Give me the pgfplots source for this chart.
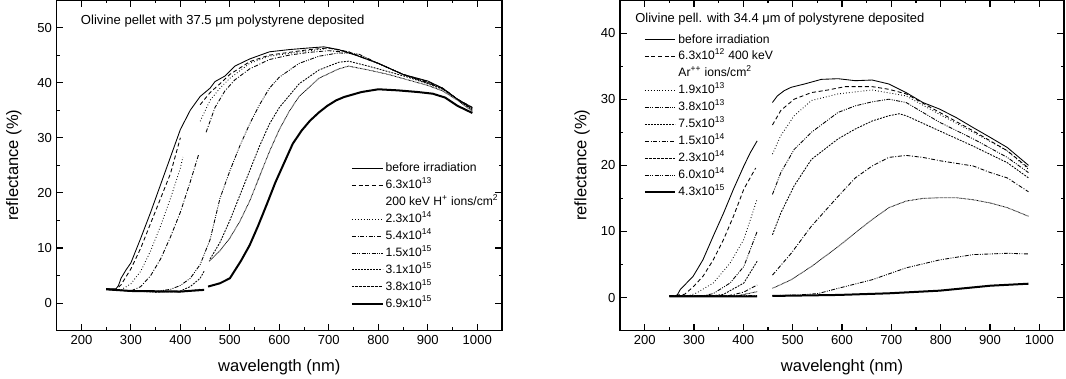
\documentclass[border=0pt]{standalone}
\usepackage{fontspec}
\setmainfont{Liberation Sans}
\usepackage{pgfplots}
\pgfplotsset{compat=1.18}

\pgfplotsset{
  panel/.style={
    scale only axis, height=248pt, anchor=south west,
    xmin=150, xmax=1050, xtick={200,300,...,1000},
    minor x tick num=1, minor y tick num=1,
    tick align=inside, major tick length=5pt, minor tick length=2.6pt,
    axis line style={line width=1pt},
    tick style={line width=0.8pt, black},
    tick label style={font=\fontsize{9.8}{10}\selectfont},
    /pgf/number format/assume math mode=true,
    /pgf/number format/1000 sep={},
    label style={font=\fontsize{12.4}{13}\selectfont},
    xlabel style={at={(axis description cs:0.5,-0.112)}, anchor=center},
    unbounded coords=jump,
    no markers,
    legend cell align=left,
    legend style={draw=none, fill=none, anchor=north west, inner sep=0pt,
      font=\fontsize{9.1}{10}\selectfont, row sep=3.7pt,
      nodes={inner ysep=0pt, inner xsep=1.5pt, text height=7pt, text depth=2pt}},
    legend image code/.code={\draw[##1] (0pt,0pt) -- (23pt,0pt);},
    every axis plot/.append style={line width=0.65pt, black},
  },
  sdash/.style={dash pattern=on 3pt off 2pt},
  sdot/.style={dash pattern=on 0.6pt off 1.6pt},
  sdashdot/.style={dash pattern=on 3pt off 1.3pt on 0.7pt off 1.3pt},
  sdashdotdot/.style={dash pattern=on 3pt off 1pt on 0.7pt off 1pt on 0.7pt off 1pt},
  sshort/.style={dash pattern=on 1.4pt off 0.9pt},
  sfine/.style={dash pattern=on 0.5pt off 0.5pt},
  sthick/.style={line width=1.5pt},
}

\begin{document}
\begin{tikzpicture}
\useasboundingbox (0,0) rectangle (799.5pt,283.5pt);

% left panel: 200 keV H+
\begin{axis}[panel, at={(42.5pt,35.5pt)}, width=334pt,
  ymin=-5, ymax=55, ytick={0,10,...,50},
  xlabel={wavelength (nm)}, ylabel={reflectance (\%)},
  ylabel style={at={(axis description cs:-0.096,0.5)}, anchor=center},
  legend style={at={(0.66,0.51)}},
]
\node[anchor=west, font=\fontsize{9.8}{10}\selectfont] at (rel axis cs:0.044,0.936)
  {Olivine pellet with 37.5 μm polystyrene deposited};

\addplot[solid] coordinates {
 (250,2.6)(270,2.6)(275,3.2)(280,4.5)(290,6)(300,7.3)(320,11.8)(340,16.5)
 (360,21.5)(380,26.5)(400,31.5)(420,35)(440,37.5)(460,39)(470,40.2)(490,41.2)
 (510,43)(540,44.3)(580,45.6)(620,46)(660,46.3)(690,46.5)(720,46)(760,44.8)
 (800,43.5)(850,41.5)(900,40.3)(930,39)(960,37)(990,35.5)};
\addlegendentry{before irradiation}
\addplot[sdash] coordinates {
 (250,2.6)(270,2.5)(280,3.3)(300,6.2)(320,10)(340,14.5)(360,19)(380,23.5)
 (400,30)(420,nan)(440,36)(460,38.2)(480,39.8)(500,41.5)(540,43.8)(580,45)
 (620,45.5)(660,46)(700,46.3)(740,45.6)(800,43.5)(850,41.5)(900,40.2)
 (930,39)(960,37)(990,35.5)};
\addlegendentry{6.3x10\textsuperscript{13}}
\addlegendimage{empty legend}
\addlegendentry{200 keV H\textsuperscript{+} ions/cm\textsuperscript{2}}
\addplot[sdot] coordinates {
 (250,2.6)(280,2.4)(300,3.5)(320,5.8)(340,9.5)(360,14)(380,19)(400,24.5)
 (405,26.5)(420,nan)(440,33)(460,36.8)(480,39)(500,40.8)(540,43.5)(580,44.8)
 (620,45.3)(660,45.8)(700,46.2)(740,45.6)(800,43.5)(850,41.5)(900,40)
 (930,39)(960,37)(990,35.3)};
\addlegendentry{2.3x10\textsuperscript{14}}
\addplot[sdashdot] coordinates {
 (250,2.5)(300,2.2)(320,3)(340,5)(360,8)(380,12)(400,16.5)(420,22)(437,27)
 (445,nan)(452,31)(470,35.5)(490,38.5)(510,40.5)(540,42.5)(580,44.2)(620,45)
 (660,45.5)(700,45.8)(740,45.5)(800,43.5)(850,41.5)(900,40)(930,39)
 (960,37)(990,35.2)};
\addlegendentry{5.4x10\textsuperscript{14}}
\addplot[sdashdotdot] coordinates {
 (250,2.5)(300,2.2)(350,2.1)(380,2.5)(400,3.2)(420,4.5)(440,7)(460,11.5)
 (480,19)(500,24)(520,28.5)(540,32.5)(560,36)(580,39)(600,41)(640,43.5)
 (680,44.8)(720,45.4)(760,45.2)(800,43.5)(850,41.5)(900,40)(930,38.9)
 (960,37)(990,35.2)};
\addlegendentry{1.5x10\textsuperscript{15}}
\addplot[sshort] coordinates {
 (250,2.5)(300,2.2)(350,2)(400,2.2)(420,3)(440,4.5)(448,5.8)(454,nan)
 (460,8)(480,11)(500,15)(520,19.5)(540,24)(560,28.5)(580,32.5)(600,35.5)
 (640,39.8)(680,42.3)(720,43.7)(740,43.9)(780,43)(820,42)(860,41)(900,39.8)
 (930,38.8)(960,37)(990,35)};
\addlegendentry{3.1x10\textsuperscript{15}}
\addplot[sfine] coordinates {
 (250,2.5)(350,2)(400,2)(440,2.5)(450,nan)(458,7.6)(480,9.5)(500,11.8)
 (520,14.8)(540,18.5)(560,23)(580,27.5)(600,31.5)(620,34.8)(640,37.5)
 (680,40.8)(720,42.5)(740,43)(780,42.3)(820,41.5)(860,40.5)(900,39.5)
 (930,38.5)(960,36.8)(990,34.8)};
\addlegendentry{3.8x10\textsuperscript{15}}
\addplot[sthick] coordinates {
 (250,2.5)(300,2.2)(400,2.1)(448,2.4)(452,nan)(456,3)(480,3.6)(500,4.5)
 (522,7.6)(540,10.5)(557,14)(575,18)(592,21.9)(610,25.5)(627,28.9)(645,31.3)
 (662,33.1)(680,34.6)(697,35.8)(715,36.8)(731,37.4)(766,38.3)(800,38.8)
 (840,38.6)(880,38.3)(910,38)(935,37.3)(960,35.8)(990,34.5)};
\addlegendentry{6.9x10\textsuperscript{15}}
\end{axis}

% right panel: 400 keV Ar++
\begin{axis}[panel, at={(465pt,35.5pt)}, width=333pt,
  ymin=-5, ymax=45, ytick={0,10,...,40},
  xlabel={wavelenght (nm)}, ylabel={reflectance (\%)},
  ylabel style={at={(axis description cs:-0.0856,0.5)}, anchor=center},
  legend style={at={(0.053,0.899)}},
]
\node[anchor=west, font=\fontsize{9.7}{10}\selectfont] at (rel axis cs:0.024,0.942)
  {Olivine pell. with 34.4 μm of polystyrene deposited};

\addplot[solid] coordinates {
 (250,0.25)(265,0.25)(272,1.2)(281,1.9)(298,3.2)(318,5.7)(339,9.3)(360,12.8)
 (380,16.4)(401,19.9)(414,21.9)(428,23.7)(445,nan)
 (459,29.5)(469,30.5)(483,31.3)(497,31.8)(524,32.3)(558,33)(592,33.1)
 (627,32.8)(661,32.9)(695,32.3)(730,31)(764,29.5)(798,28.5)(832,27.2)
 (866,25.7)(901,24.2)(935,22.7)(978,20)};
\addlegendentry{before irradiation}
\addplot[sdash] coordinates {
 (250,0.25)(281,0.5)(298,1.6)(318,3.2)(339,5.7)(360,8.8)(380,12.3)(401,16.4)
 (425,19.6)(445,nan)
 (459,26.1)(476,28.3)(503,30)(538,31)(572,31.4)(606,31.9)(661,31.9)(695,31.5)
 (730,30.8)(798,28)(866,25.2)(935,22.2)(978,19.6)};
\addlegendentry{6.3x10\textsuperscript{12} 400 keV}
\addlegendimage{empty legend}
\addlegendentry{Ar\textsuperscript{++} ions/cm\textsuperscript{2}}
\addplot[sdot] coordinates {
 (250,0.25)(290,0.3)(305,0.7)(339,2.2)(373,5.2)(401,8.8)(428,14.9)(445,nan)
 (459,21.7)(476,24.5)(503,27.5)(538,29.8)(592,30.8)(661,31.4)(730,30.5)
 (798,27.7)(866,25)(935,22.2)(978,19.4)};
\addlegendentry{1.9x10\textsuperscript{13}}
\addplot[sdashdotdot] coordinates {
 (250,0.25)(320,0.3)(339,0.6)(373,2.2)(401,4.7)(428,10)(445,nan)
 (459,15.6)(476,18.9)(503,22.4)(538,25)(592,28)(627,29)(661,29.6)(695,30)
 (730,29.5)(798,26.5)(866,24)(935,21.2)(978,18.9)};
\addlegendentry{3.8x10\textsuperscript{13}}
\addplot[sshort] coordinates {
 (250,0.25)(340,0.3)(360,0.5)(401,2.2)(428,5.5)(445,nan)
 (459,9.5)(476,12.8)(503,16.9)(538,20.9)(592,24)(627,25.5)(661,26.7)
 (695,27.5)(716,27.8)(730,27.5)(798,25.2)(866,22.9)(935,20.4)(978,18.1)};
\addlegendentry{7.5x10\textsuperscript{13}}
\addplot[sdashdot] coordinates {
 (250,0.25)(370,0.3)(400,0.8)(428,1.9)(445,nan)
 (459,3.4)(497,6.7)(538,10.8)(592,15.3)(627,18.1)(661,19.9)(695,21.2)
 (730,21.5)(764,21.2)(798,20.7)(866,19.9)(901,18.9)(935,18.1)(978,16)};
\addlegendentry{1.5x10\textsuperscript{14}}
\addplot[sfine] coordinates {
 (250,0.25)(390,0.3)(428,0.9)(445,nan)
 (459,1.4)(497,2.7)(538,4.7)(592,7.7)(627,9.8)(661,11.8)(695,13.6)(730,14.6)
 (764,15)(798,15.1)(832,15.1)(866,14.8)(901,14.3)(935,13.6)(978,12.3)};
\addlegendentry{2.3x10\textsuperscript{14}}
\addplot[sdashdotdot] coordinates {
 (250,0.25)(428,0.3)(445,nan)
 (459,0.3)(510,0.4)(551,0.6)(592,1.4)(661,2.7)(730,4.5)(798,5.7)(866,6.5)
 (935,6.7)(978,6.6)};
\addlegendentry{6.0x10\textsuperscript{14}}
\addplot[sthick] coordinates {
 (250,0.2)(428,0.2)(445,nan)
 (459,0.25)(592,0.4)(695,0.65)(798,1.05)(901,1.8)(978,2.1)};
\addlegendentry{4.3x10\textsuperscript{15}}
\end{axis}
\end{tikzpicture}
\end{document}
